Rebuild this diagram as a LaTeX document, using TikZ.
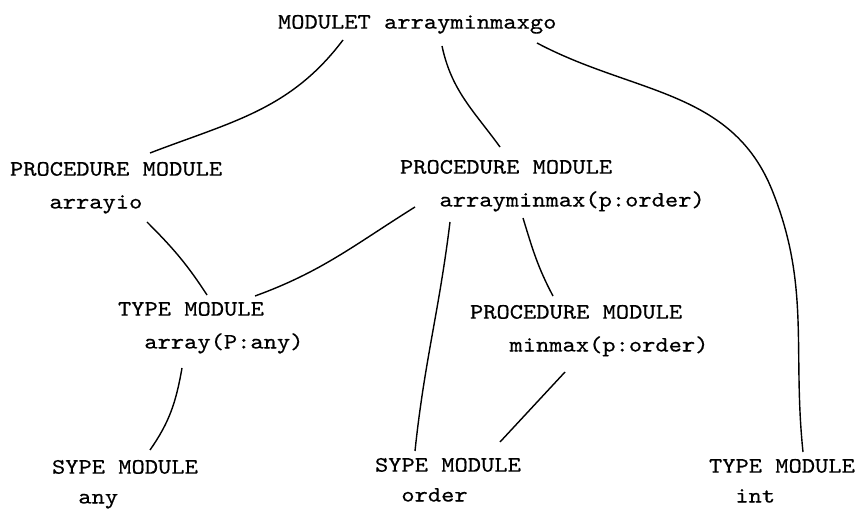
\documentclass[tikz,border=0pt]{standalone}
\usepackage{fontspec}
\newfontfamily\typefont{lmmono10-regular.otf}[FakeStretch=1.15,FakeBold=0.5]
\newcommand{\ind}[1]{\hspace*{#1\dimexpr0.6em\relax}}

\begin{document}
\begin{tikzpicture}[x=0.02cm,y=-0.02cm,
  module/.style={align=left,anchor=north west,inner sep=0pt,outer sep=0pt,
    font=\typefont\fontsize{12.5pt}{18.7pt}\selectfont},
  leaf/.style={module,font=\typefont\fontsize{12.5pt}{17pt}\selectfont},
  link/.style={line width=0.8pt}]
  \useasboundingbox (0,0) rectangle (858,509);

  % main modulet
  \node[module] (prog) at (278,15) {MODULET arrayminmaxgo};

  % procedures
  \node[module] (pio) at (10,162) {PROCEDURE MODULE\\\ind{3}arrayio};
  \node[module] (pamm) at (400,160) {PROCEDURE MODULE\\\ind{3}arrayminmax(p:order)};
  \node[module] (pmm) at (470,305) {PROCEDURE MODULE\\\ind{3}minmax(p:order)};

  % types
  \node[module] (tarr) at (118,302) {TYPE MODULE\\\ind{2}array(P:any)};
  \node[leaf] (sany) at (52,460) {SYPE MODULE\\\ind{2}any};
  \node[leaf] (sord) at (375,458) {SYPE MODULE\\\ind{2}order};
  \node[leaf] (tint) at (709,459) {TYPE MODULE\\\ind{2}int};

  \coordinate (kink) at (772,190);

  \draw[link] ([shift={(65,25)}]prog.north west) to[out=233,in=21] ([shift={(140,-9)}]pio.north west);
  \draw[link] ([shift={(164,31)}]prog.north west) to[out=-78,in=126] ([shift={(100,-13)}]pamm.north west);
  \draw[link] ([shift={(259,28)}]prog.north west) to[out=-28,in=112] (kink)
    to[out=-68,in=96] ([shift={(94,-7)}]tint.north west);

  \draw[link] ([shift={(137,60)}]pio.north west) to[out=-45,in=123] ([shift={(89,-7)}]tarr.north west);
  \draw[link] ([shift={(15,47)}]pamm.north west) to[out=212,in=20] ([shift={(137,-6)}]tarr.north west);
  \draw[link] ([shift={(50,62)}]pamm.north west) to[out=-97,in=84] ([shift={(40,-7)}]sord.north west);
  \draw[link] ([shift={(123,58)}]pamm.north west) to[out=-73,in=118] ([shift={(83,-9)}]pmm.north west);

  \draw[link] ([shift={(64,66)}]tarr.north west) to[out=-100,in=55] ([shift={(98,-10)}]sany.north west);
  \draw[link] ([shift={(95,67)}]pmm.north west) -- ([shift={(125,-16)}]sord.north west);
\end{tikzpicture}
\end{document}
